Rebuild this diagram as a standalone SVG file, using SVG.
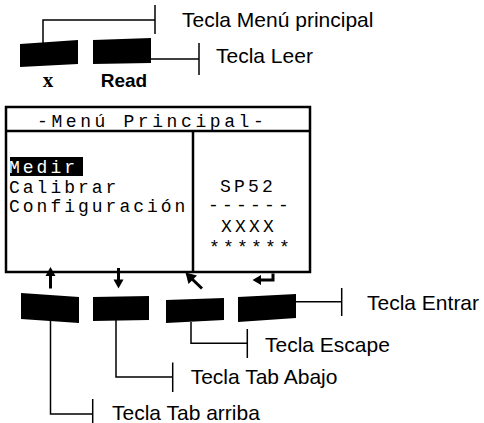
<svg xmlns="http://www.w3.org/2000/svg" width="484" height="423" viewBox="0 0 484 423">
<style>
.key{fill:#000}
.conn{fill:none;stroke:#000;stroke-width:1.5}
.arr{fill:none;stroke:#000;stroke-width:3}
.lbl{font-family:"Liberation Sans",Arial,sans-serif;font-size:21px;fill:#000}
.lcd{font-family:"Liberation Mono","DejaVu Sans Mono",monospace;font-size:18px;letter-spacing:3.2px;fill:#000}
.frame{fill:none;stroke:#000;stroke-width:2.5}
</style>
<rect width="484" height="423" fill="#fff"/>
<g id="connectors">
<polyline class="conn" points="43,44 43,20 155,20"/>
<line class="conn" x1="155" y1="5" x2="155" y2="34"/>
<polyline class="conn" points="151,59 199,59"/>
<line class="conn" x1="199" y1="43" x2="199" y2="75"/>
<polyline class="conn" points="50.5,321 50.5,414 92.7,414"/>
<line class="conn" x1="92.7" y1="399" x2="92.7" y2="429"/>
<polyline class="conn" points="116,320 116,377 172.7,377"/>
<line class="conn" x1="172.7" y1="362.5" x2="172.7" y2="392"/>
<polyline class="conn" points="191,322 191,343.3 247.3,343.3"/>
<line class="conn" x1="247.3" y1="329" x2="247.3" y2="358"/>
<polyline class="conn" points="296,301.7 341.7,301.7"/>
<line class="conn" x1="341.7" y1="288" x2="341.7" y2="316"/>
</g>
<g id="key-menu">
<polygon class="key" points="20,44 78,40 78,64 20,67"/>
<text x="48" y="87" text-anchor="middle" font-family="'Liberation Serif','Times New Roman',serif" font-weight="bold" font-size="21">x</text>
</g>
<g id="key-read">
<polygon class="key" points="93,40 151,38 151,63 93,64"/>
<text x="124" y="87" text-anchor="middle" font-family="'Liberation Sans',Arial,sans-serif" font-weight="bold" font-size="19">Read</text>
</g>
<g id="label-menu"><text class="lbl" x="182" y="27">Tecla Menú principal</text></g>
<g id="label-leer"><text class="lbl" x="216" y="63">Tecla Leer</text></g>
<g id="screen">
<rect class="frame" x="6" y="107" width="304" height="165"/>
<line class="frame" x1="6" y1="131" x2="310" y2="131"/>
<line class="frame" x1="193" y1="131" x2="193" y2="272"/>
<text class="lcd" x="37" y="126.5" style="letter-spacing:3.6px">-Menú Principal-</text>
<rect x="10" y="157" width="73" height="19" fill="#000"/>
<text class="lcd" x="9" y="172.5" style="fill:#fff;letter-spacing:3px">Medir</text>
<text class="lcd" x="9" y="192.5" style="letter-spacing:3px">Calibrar</text>
<text class="lcd" x="9" y="211.5" style="letter-spacing:3px">Configuración</text>
<text class="lcd" x="220" y="191.7">SP52</text>
<text class="lcd" x="208" y="211">------</text>
<text class="lcd" x="221" y="231.7">XXXX</text>
<text class="lcd" x="209" y="253">******</text>
</g>
<g id="arrow-up">
<line class="arr" x1="50.5" y1="288.5" x2="50.5" y2="273"/>
<polygon points="50.5,267 45.5,276 55.5,276"/>
</g>
<g id="arrow-down">
<line class="arr" x1="118.5" y1="268" x2="118.5" y2="281"/>
<polygon points="118.5,288.5 113.5,279.5 123.5,279.5"/>
</g>
<g id="arrow-esc">
<line class="arr" x1="202" y1="288.5" x2="191" y2="278"/>
<polygon points="185.5,272.5 197,275.5 188.5,284"/>
</g>
<g id="arrow-enter">
<polyline class="arr" points="273,273.5 273,280 259,280"/>
<polygon points="252.5,280 261,275 261,285"/>
</g>
<g id="key-up"><polygon class="key" points="21,293 79,297 79,323 21,319"/></g>
<g id="key-down"><polygon class="key" points="93,297 149,296 149,320 93,321"/></g>
<g id="key-escape"><polygon class="key" points="166,300 224,298 224,320 166,323"/></g>
<g id="key-enter"><polygon class="key" points="238,297 296,294 296,318 238,322"/></g>
<g id="label-entrar"><text class="lbl" x="367" y="310">Tecla Entrar</text></g>
<g id="label-escape"><text class="lbl" x="265" y="351.7">Tecla Escape</text></g>
<g id="label-abajo"><text class="lbl" x="190.7" y="384">Tecla Tab Abajo</text></g>
<g id="label-arriba"><text class="lbl" x="112" y="420">Tecla Tab arriba</text></g>
</svg>
